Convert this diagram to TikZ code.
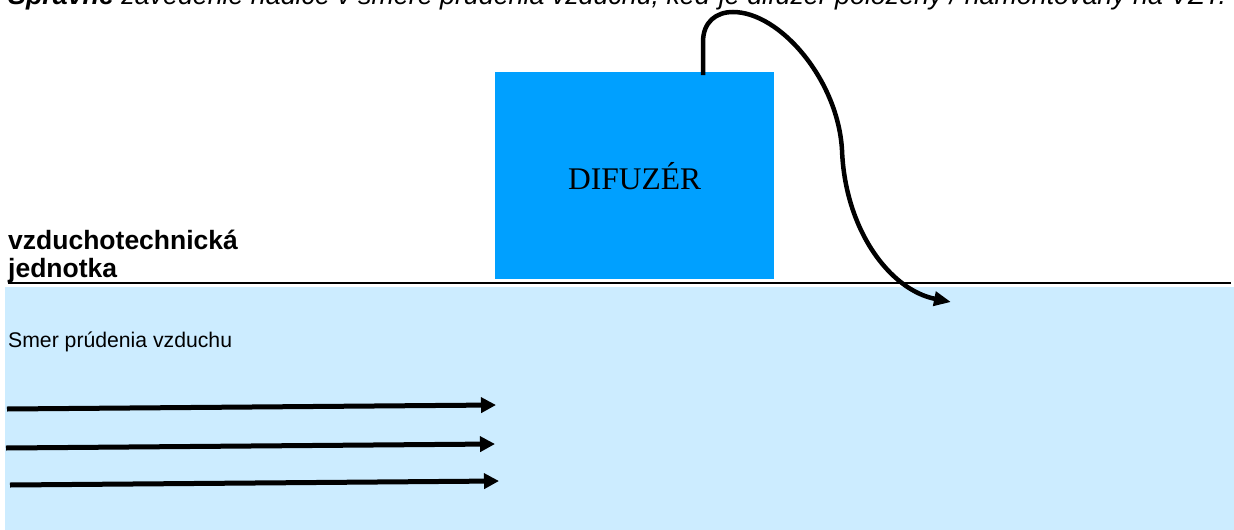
\documentclass[tikz,border=0pt]{standalone}
\usepackage{fontspec}
\setmainfont{Liberation Sans}
\newfontfamily\timesfont{Liberation Serif}
\usetikzlibrary{arrows.meta}

\definecolor{ductblue}{RGB}{204,236,255}
\definecolor{boxblue}{RGB}{0,160,255}

\begin{document}
\begin{tikzpicture}[x=1pt,y=-1pt,
		txt/.style={inner sep=0pt,anchor=base west},
		flow/.style={line width=5pt,-{Triangle[length=15pt,width=15pt]}},
		hose/.style={line width=4.5pt,-{Triangle[length=17pt,width=14pt]}}
	]
	\useasboundingbox (0,0) rectangle (1234,530);
	\clip (0,0) rectangle (1234,530);

	% duct
	\fill[ductblue] (5,287) rectangle (1234,530);
	\node[txt] (title) at (8,5) {\fontsize{26.8}{30}\selectfont\itshape\textbf{Správne} zavedenie hadice v smere prúdenia vzduchu, keď je difuzér položený / namontovaný na VZT.};

	% diffuser
	\node[fill=boxblue,minimum width=279pt,minimum height=207pt,inner sep=0pt,anchor=north west,font=\timesfont\fontsize{31.5}{35}\selectfont] (difuzer) at (495,72) {DIFUZÉR};

	\node[txt,font=\bfseries\fontsize{26.5}{30}\selectfont] (vzt1) at (8,249) {vzduchotechnická};
	\node[txt,font=\bfseries\fontsize{26.5}{30}\selectfont] (vzt2) at (8,277) {jednotka};
	\draw[line width=2.5pt] (vzt2.base west) ++(0,6) coordinate (u1) -- (vzt2.base east |- u1);
	\draw[line width=1.5pt] (vzt2.base east |- u1) -- (1231,283);

	\node[txt,font=\fontsize{21.2}{25}\selectfont] (smer) at (8,347) {Smer prúdenia vzduchu};

	% air flow
	\coordinate (a1) at (7,409);   \coordinate (b1) at (496,405);
	\coordinate (a2) at (6,448);   \coordinate (b2) at (495,444);
	\coordinate (a3) at (10,485);  \coordinate (b3) at (499,481);
	\foreach \i in {1,2,3}
		\draw[flow] (a\i) -- (b\i);

	% hose
	\coordinate (h0) at (703,75);
	\coordinate (h1) at (951,302);
	\draw[hose] (h0) -- (703,42) .. controls (703,22) and (716,12) .. (733,12)
		.. controls (780,12) and (838,80) .. (842,150)
		.. controls (845,230) and (890,290) .. (h1);
\end{tikzpicture}
\end{document}
